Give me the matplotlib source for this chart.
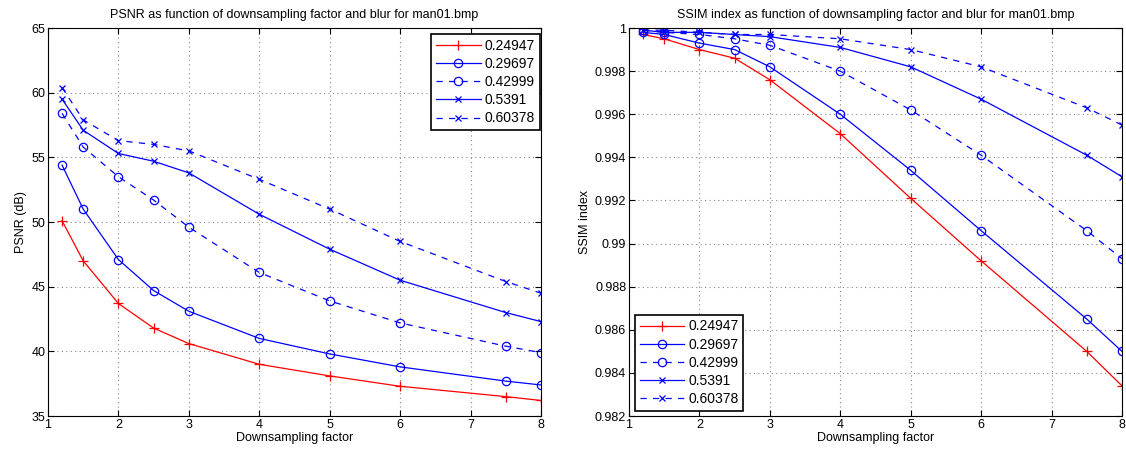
import matplotlib
matplotlib.use("Agg")
import matplotlib.pyplot as plt

plt.rcParams['font.family'] = ['Liberation Sans', 'DejaVu Sans']
plt.rcParams['font.size'] = 9

factors = [1.2, 1.5, 2, 2.5, 3, 4, 5, 6, 7.5, 8]
blur_labels = ['0.24947', '0.29697', '0.42999', '0.5391', '0.60378']

psnr_024947 = [50.1, 47.0, 43.7, 41.8, 40.6, 39.0, 38.1, 37.3, 36.5, 36.2]
psnr_029697 = [54.4, 51.0, 47.1, 44.7, 43.1, 41.0, 39.8, 38.8, 37.7, 37.4]
psnr_042999 = [58.4, 55.8, 53.5, 51.7, 49.6, 46.1, 43.9, 42.2, 40.4, 39.9]
psnr_05391 = [59.5, 57.1, 55.3, 54.7, 53.8, 50.6, 47.9, 45.5, 43.0, 42.3]
psnr_060378 = [60.4, 57.9, 56.3, 56.0, 55.5, 53.3, 51.0, 48.5, 45.4, 44.5]

ssim_024947 = [0.9997, 0.9995, 0.9990, 0.9986, 0.9976, 0.9951, 0.9921, 0.9892, 0.9850, 0.9834]
ssim_029697 = [0.9998, 0.9997, 0.9993, 0.9990, 0.9982, 0.9960, 0.9934, 0.9906, 0.9865, 0.9850]
ssim_042999 = [0.9999, 0.9998, 0.9997, 0.9995, 0.9992, 0.9980, 0.9962, 0.9941, 0.9906, 0.9893]
ssim_05391 = [0.9999, 0.9998, 0.9998, 0.9997, 0.9996, 0.9991, 0.9982, 0.9967, 0.9941, 0.9931]
ssim_060378 = [0.9999, 0.9999, 0.9998, 0.9997, 0.9997, 0.9995, 0.9990, 0.9982, 0.9963, 0.9955]

psnr_series = [psnr_024947, psnr_029697, psnr_042999, psnr_05391, psnr_060378]
ssim_series = [ssim_024947, ssim_029697, ssim_042999, ssim_05391, ssim_060378]

styles = [
    dict(color='red', linestyle='-', marker='+', markersize=7),
    dict(color='blue', linestyle='-', marker='o', markersize=6, markerfacecolor='none'),
    dict(color='blue', linestyle=(0, (5, 5)), marker='o', markersize=6, markerfacecolor='none'),
    dict(color='blue', linestyle='-', marker='x', markersize=4),
    dict(color='blue', linestyle=(0, (5, 5)), marker='x', markersize=4),
]

fig = plt.figure(figsize=(11.26, 4.55), dpi=100)
ax1 = fig.add_axes([0.0426, 0.0857, 0.4378, 0.8527])
ax2 = fig.add_axes([0.5586, 0.0857, 0.4378, 0.8527])


def setup(ax):
    ax.set_xlim(1, 8)
    ax.grid(True, linestyle=(0, (1, 3)), color='#888888', linewidth=0.8)
    ax.tick_params(direction='in', top=True, right=True, length=4, width=0.8,
                   colors='black', pad=2, labelsize=9)
    for s in ax.spines.values():
        s.set_linewidth(0.8)
    ax.set_xlabel('Downsampling factor', labelpad=1)


for vals, st, lab in zip(psnr_series, styles, blur_labels):
    ax1.plot(factors, vals, linewidth=0.9, markeredgewidth=0.9, label=lab, **st)
setup(ax1)
ax1.set_ylim(35, 65)
ax1.set_yticks([35, 40, 45, 50, 55, 60, 65])
ax1.set_ylabel('PSNR (dB)', labelpad=3)
ax1.set_title('PSNR as function of downsampling factor and blur for man01.bmp', fontsize=9, pad=7)
leg1 = ax1.legend(loc='upper right', bbox_to_anchor=(0.998, 0.985), fancybox=False,
                  framealpha=1, edgecolor='black', borderaxespad=0, handlelength=3.2,
                  labelspacing=0.3, borderpad=0.35, handletextpad=0.3, fontsize=10)
leg1.get_frame().set_linewidth(1.2)

for vals, st, lab in zip(ssim_series, styles, blur_labels):
    ax2.plot(factors, vals, linewidth=0.9, markeredgewidth=0.9, label=lab, **st)
setup(ax2)
ax2.set_ylim(0.982, 1.0)
yt = [0.982, 0.984, 0.986, 0.988, 0.99, 0.992, 0.994, 0.996, 0.998, 1.0]
ax2.set_yticks(yt)
ax2.set_yticklabels(['0.982', '0.984', '0.986', '0.988', '0.99', '0.992', '0.994', '0.996', '0.998', '1'])
ax2.set_ylabel('SSIM index', labelpad=3)
ax2.set_title('SSIM index as function of downsampling factor and blur for man01.bmp', fontsize=9, pad=7)
leg2 = ax2.legend(loc='lower left', bbox_to_anchor=(0.012, 0.013), fancybox=False,
                  framealpha=1, edgecolor='black', borderaxespad=0, handlelength=3.2,
                  labelspacing=0.3, borderpad=0.35, handletextpad=0.3, fontsize=10)
leg2.get_frame().set_linewidth(1.2)

fig.savefig('out.png', dpi=100)
